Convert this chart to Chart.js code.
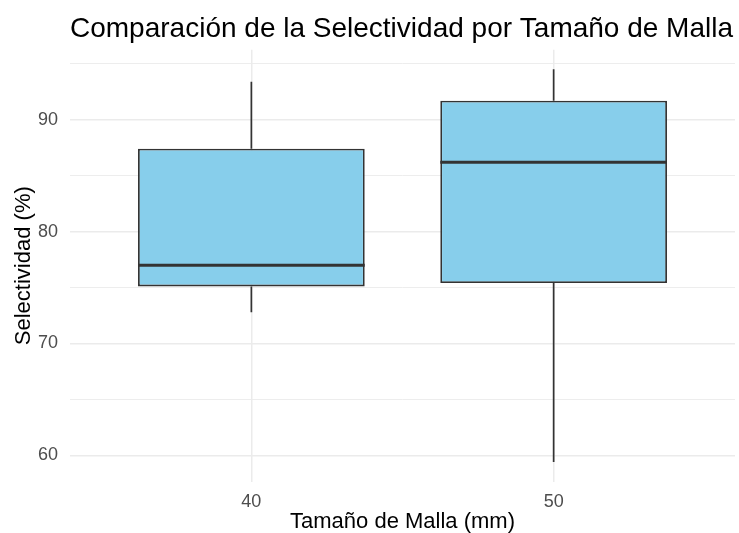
<!DOCTYPE html>
<html>
<head>
<meta charset="utf-8">
<script src="https://cdn.jsdelivr.net/npm/chart.js@4.4.1/dist/chart.umd.min.js"></script>
<style>
  html, body { margin: 0; padding: 0; background: #ffffff; }
  #wrap { width: 739px; height: 533px; position: relative; }
</style>
</head>
<body>
<div id="wrap"><canvas id="c" width="739" height="533"></canvas></div>
<script>
// ---- data ----
const categories  = ['40', '50'];          // Tamaño de Malla (mm)
const whiskerLow  = [72.8, 59.4];
const q1          = [75.1, 75.4];
const median      = [77.0, 86.2];
const q3          = [87.4, 91.7];
const whiskerHigh = [93.4, 94.5];
const yTickLabels = ['60', '70', '80', '90'];

const titleText  = 'Comparación de la Selectividad por Tamaño de Malla';
const xTitleText = 'Tamaño de Malla (mm)';
const yTitleText = 'Selectividad (%)';

// ---- derived ----
const positions = categories.map((c, i) => i + 1);
const boxWidth = 0.75;
const dataMin = Math.min(...whiskerLow);
const dataMax = Math.max(...whiskerHigh);
const span = dataMax - dataMin;
const yMin = dataMin - 0.05 * span;
const yMax = dataMax + 0.05 * span;

const edge = '#333333';
const fill = '#87CEEB';
const gridCol = '#EBEBEB';
const fontFam = '"Liberation Sans", Arial, sans-serif';

const datasets = [];
// boxes (Q1..Q3)
datasets.push({
  type: 'bar',
  data: positions.map((p, i) => ({ x: p, y: [q1[i], q3[i]] })),
  backgroundColor: fill,
  borderColor: edge,
  borderWidth: 1.8,
  borderSkipped: false,
  categoryPercentage: 1.0,
  barPercentage: boxWidth,
  order: 1
});
// whiskers and medians
positions.forEach((p, i) => {
  datasets.push({
    type: 'line',
    data: [{ x: p, y: q3[i] }, { x: p, y: whiskerHigh[i] }],
    borderColor: edge, borderWidth: 1.7, pointRadius: 0, order: 2
  });
  datasets.push({
    type: 'line',
    data: [{ x: p, y: whiskerLow[i] }, { x: p, y: q1[i] }],
    borderColor: edge, borderWidth: 1.7, pointRadius: 0, order: 2
  });
  datasets.push({
    type: 'line',
    data: [{ x: p - boxWidth / 2, y: median[i] }, { x: p + boxWidth / 2, y: median[i] }],
    borderColor: edge, borderWidth: 3, pointRadius: 0, order: 0
  });
});

new Chart(document.getElementById('c'), {
  type: 'bar',
  data: { datasets },
  options: {
    responsive: false,
    animation: false,
    layout: { padding: { left: 0, right: 4, top: 0, bottom: 0 } },
    plugins: {
      legend: { display: false },
      tooltip: { enabled: false },
      title: {
        display: true,
        text: titleText,
        align: 'start',
        fullSize: false,
        color: '#000000',
        font: { family: fontFam, size: 28, weight: 'normal', lineHeight: 1.2 },
        padding: { top: 12.5, bottom: 3.6 }
      }
    },
    scales: {
      x: {
        type: 'linear',
        min: 0.4,
        max: 2.6,
        offset: false,
        afterBuildTicks: (s) => { s.ticks = positions.map(v => ({ value: v })); },
        afterFit: (s) => { s.height = 51.3; },
        ticks: {
          callback: (v) => { const i = positions.indexOf(v); return i >= 0 ? categories[i] : ''; },
          color: '#4D4D4D',
          font: { family: fontFam, size: 18 },
          padding: 10,
          maxRotation: 0
        },
        grid: { color: gridCol, lineWidth: 1.5, drawTicks: false, offset: false },
        border: { display: false },
        title: {
          display: true,
          text: xTitleText,
          color: '#000000',
          font: { family: fontFam, size: 22, lineHeight: 1 },
          padding: { top: 0, bottom: 0 }
        }
      },
      y: {
        type: 'linear',
        min: yMin,
        max: yMax,
        afterFit: (s) => { s.width = 70; },
        ticks: {
          stepSize: 5,
          includeBounds: false,
          callback: (v) => { const s = String(Math.round(v)); return (v % 10 === 0 && yTickLabels.includes(s)) ? s : ''; },
          color: '#4D4D4D',
          font: { family: fontFam, size: 18 },
          padding: 12
        },
        grid: {
          color: gridCol,
          lineWidth: (ctx) => (ctx.tick && ctx.tick.value % 10 === 0) ? 1.5 : 0.9,
          drawTicks: false
        },
        border: { display: false },
        title: {
          display: true,
          text: yTitleText,
          color: '#000000',
          font: { family: fontFam, size: 22, lineHeight: 1 },
          padding: { top: 12.5, bottom: 0 }
        }
      }
    }
  }
});
</script>
</body>
</html>
